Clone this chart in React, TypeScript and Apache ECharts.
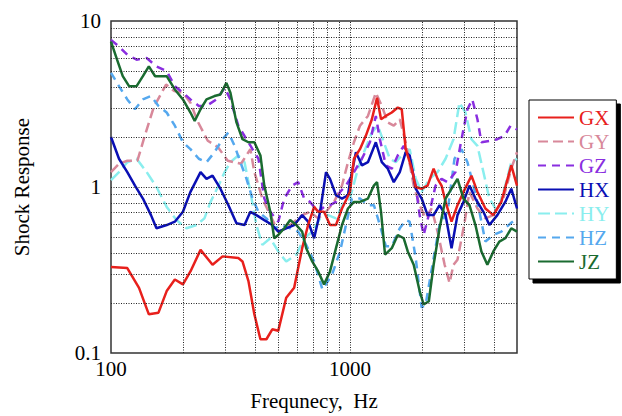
import React, { useEffect, useRef } from "react";
import * as echarts from "echarts";

const seriesNames = ["GX", "GY", "GZ", "HX", "HY", "HZ", "JZ"];
const xGridValues = [200, 300, 400, 500, 600, 700, 800, 900, 1000, 2000, 3000, 4000];
const yGridValues = [0.2, 0.3, 0.4, 0.5, 0.6, 0.7, 0.8, 0.9, 1, 2, 3, 4, 5, 6, 7, 8, 9];
const xTickLabels = [100, 1000];

const GX = [
  [100, 0.33], [117, 0.325], [131, 0.247], [144, 0.171], [158, 0.175], [171, 0.236], [185, 0.277],
  [200, 0.259], [215, 0.31], [237, 0.418], [266, 0.34], [293, 0.382], [341, 0.373], [355, 0.356],
  [376, 0.271], [398, 0.171], [422, 0.121], [447, 0.121], [473, 0.139], [501, 0.136], [541, 0.215],
  [584, 0.247], [631, 0.428], [668, 0.59], [708, 0.759], [736, 0.709], [779, 0.709], [825, 0.59],
  [874, 0.59], [926, 0.742], [1000, 0.934], [1039, 1.48], [1101, 1.69], [1166, 2.04], [1235, 2.56],
  [1298, 3.45], [1349, 2.56], [1413, 2.68], [1496, 2.81], [1585, 3.01], [1647, 2.94], [1711, 1.69],
  [1813, 1.29], [1884, 1.0], [1995, 0.977], [2113, 1.02], [2239, 1.29], [2326, 1.12], [2417, 1.02],
  [2512, 0.813], [2661, 0.618], [2818, 0.777], [2985, 0.934], [3224, 1.17], [3415, 0.934],
  [3687, 0.742], [3981, 0.677], [4299, 0.813], [4732, 1.35], [5000, 1.02],
];

const GY = [
  [100, 1.23], [108, 1.38], [117, 1.44], [129, 1.44], [138, 2.0], [151, 3.03], [170, 4.14],
  [184, 3.78], [200, 3.7], [215, 3.22], [230, 2.5], [254, 1.9], [280, 1.74], [308, 1.44],
  [350, 1.38], [383, 1.69], [398, 1.23], [430, 0.852], [464, 0.677], [501, 0.538], [541, 0.564],
  [584, 0.618], [631, 0.677], [681, 0.709], [736, 0.647], [794, 0.709], [858, 0.813], [926, 1.02],
  [981, 1.41], [1039, 1.86], [1101, 2.34], [1189, 2.68], [1283, 3.7], [1359, 3.08], [1440, 2.45],
  [1525, 2.34], [1616, 2.56], [1711, 1.86], [1848, 1.02], [1957, 0.777], [2073, 0.647],
  [2196, 0.742], [2326, 0.538], [2490, 0.34], [2610, 0.264], [2712, 0.34], [2818, 0.365],
  [3012, 0.604], [3162, 0.934], [3415, 0.742], [3687, 0.647], [3981, 0.677], [4382, 0.852],
  [4732, 1.29], [5000, 1.62],
];

const GZ = [
  [100, 7.7], [108, 7.02], [117, 6.26], [128, 5.85], [141, 5.98], [155, 5.33], [171, 4.98],
  [185, 4.05], [200, 3.7], [215, 3.37], [233, 3.08], [251, 3.08], [276, 3.37], [299, 3.96],
  [316, 3.37], [341, 2.34], [369, 1.94], [391, 1.69], [414, 1.48], [438, 0.852], [464, 0.709],
  [501, 0.618], [531, 0.852], [573, 1.02], [607, 1.07], [643, 0.852], [681, 0.813], [736, 0.709],
  [779, 0.759], [825, 0.777], [874, 0.813], [909, 0.934], [962, 1.02], [1039, 1.23], [1122, 1.48],
  [1212, 1.86], [1283, 2.68], [1334, 1.94], [1413, 1.35], [1496, 1.29], [1585, 1.55], [1679, 1.77],
  [1778, 1.48], [1884, 1.02], [1957, 0.677], [2034, 0.514], [2154, 0.709], [2282, 1.02],
  [2417, 1.12], [2561, 1.07], [2765, 1.23], [2929, 1.94], [3102, 2.94], [3250, 3.37], [3415, 2.56],
  [3548, 1.86], [3900, 1.9], [4137, 1.94], [4440, 2.04], [4700, 2.34], [5000, 2.22],
];

const HX = [
  [100, 2.0], [108, 1.48], [117, 1.23], [126, 1.02], [136, 0.852], [147, 0.677], [155, 0.564],
  [171, 0.59], [185, 0.618], [200, 0.709], [215, 0.934], [237, 1.23], [251, 1.12], [266, 1.17],
  [287, 0.977], [310, 0.777], [335, 0.604], [362, 0.59], [383, 0.709], [406, 0.677], [438, 0.632],
  [473, 0.59], [501, 0.538], [541, 0.564], [584, 0.59], [631, 0.677], [668, 0.618], [708, 0.491],
  [750, 0.709], [794, 1.23], [825, 1.12], [874, 0.892], [926, 0.852], [981, 0.892], [1000, 1.07],
  [1059, 1.62], [1122, 1.35], [1189, 1.41], [1283, 1.86], [1359, 1.41], [1440, 1.29], [1525, 1.07],
  [1616, 1.23], [1711, 1.62], [1778, 1.55], [1884, 0.977], [1995, 0.852], [2113, 0.677],
  [2239, 0.677], [2371, 0.777], [2512, 0.677], [2661, 0.428], [2818, 0.677], [2985, 0.813],
  [3162, 1.02], [3350, 0.852], [3617, 0.709], [3831, 0.59], [4137, 0.677], [4467, 0.813],
  [4732, 0.977], [5000, 0.742],
];

const HY = [
  [100, 1.1], [108, 1.23], [117, 1.41], [128, 1.48], [141, 1.23], [155, 1.0], [171, 0.759],
  [188, 0.632], [207, 0.564], [228, 0.59], [246, 0.647], [261, 0.813], [282, 1.02], [299, 1.23],
  [316, 1.41], [341, 1.55], [362, 1.41], [383, 0.934], [406, 0.59], [430, 0.448], [464, 0.491],
  [501, 0.409], [541, 0.356], [596, 0.391], [643, 0.491], [695, 0.538], [750, 0.647], [810, 0.677],
  [874, 0.647], [944, 0.813], [1000, 0.852], [1080, 1.29], [1144, 1.62], [1235, 2.13], [1308, 2.34],
  [1386, 1.86], [1468, 1.48], [1555, 1.41], [1647, 1.55], [1778, 1.69], [1884, 1.12], [1995, 0.934],
  [2154, 1.12], [2326, 1.23], [2512, 1.48], [2712, 1.94], [2872, 3.22], [3043, 2.81], [3224, 1.94],
  [3415, 1.77], [3617, 1.23], [3831, 0.852], [4137, 0.709], [4467, 1.02], [4732, 1.41], [5000, 1.48],
];

const HZ = [
  [100, 4.87], [108, 4.05], [117, 3.37], [126, 2.94], [136, 3.37], [147, 3.53], [158, 3.08],
  [171, 2.81], [185, 2.34], [200, 1.86], [215, 1.69], [233, 1.48], [251, 1.41], [271, 1.62],
  [293, 1.94], [310, 2.13], [329, 1.77], [348, 1.41], [369, 1.12], [391, 0.852], [414, 0.709],
  [447, 0.647], [482, 0.564], [521, 0.59], [562, 0.564], [607, 0.538], [656, 0.448], [708, 0.356],
  [767, 0.241], [841, 0.296], [909, 0.409], [962, 0.59], [1019, 0.852], [1101, 0.852], [1189, 0.777],
  [1259, 0.777], [1334, 0.59], [1413, 0.44], [1496, 0.44], [1616, 0.564], [1711, 0.632],
  [1778, 0.618], [1884, 0.373], [1995, 0.188], [2073, 0.196], [2239, 0.373], [2371, 0.59],
  [2561, 0.709], [2738, 1.48], [2929, 1.69], [3102, 1.41], [3286, 1.02], [3481, 0.709],
  [3687, 0.469], [3981, 0.514], [4299, 0.538], [4700, 0.604], [5000, 0.647],
];

const JZ = [
  [100, 7.52], [106, 5.85], [112, 4.65], [119, 4.05], [128, 4.05], [136, 4.65], [144, 5.33],
  [153, 4.65], [171, 4.65], [185, 3.87], [200, 3.37], [215, 2.81], [224, 2.5], [237, 2.94],
  [251, 3.37], [271, 3.53], [287, 3.61], [304, 4.24], [316, 3.7], [335, 2.45], [355, 1.94],
  [376, 1.86], [398, 1.86], [422, 1.55], [438, 1.02], [464, 0.709], [482, 0.491], [501, 0.514],
  [531, 0.564], [562, 0.632], [596, 0.59], [631, 0.538], [656, 0.428], [695, 0.356], [736, 0.31],
  [779, 0.259], [825, 0.31], [874, 0.428], [926, 0.59], [981, 0.742], [1039, 0.813], [1101, 0.813],
  [1189, 0.852], [1259, 1.02], [1298, 1.07], [1349, 0.709], [1402, 0.391], [1496, 0.428],
  [1585, 0.514], [1679, 0.491], [1745, 0.409], [1848, 0.34], [1957, 0.236], [2034, 0.196],
  [2138, 0.205], [2239, 0.34], [2371, 0.564], [2512, 0.852], [2661, 0.977], [2818, 1.12],
  [2985, 0.852], [3162, 0.777], [3350, 0.59], [3548, 0.409], [3758, 0.34], [3981, 0.409],
  [4217, 0.469], [4467, 0.491], [4732, 0.564], [5000, 0.538],
];

const FONT = "Liberation Serif";
const FS = 21;

const styles: Record<string, { color: string; type: any }> = {
  GX: { color: "#e8201c", type: "solid" },
  GY: { color: "#d8889a", type: [10, 5] },
  GZ: { color: "#8a2ee0", type: [8, 6] },
  HX: { color: "#0a0fb4", type: "solid" },
  HY: { color: "#8aeeee", type: [12, 5] },
  HZ: { color: "#55a8ee", type: [8, 6] },
  JZ: { color: "#1a6b30", type: "solid" },
};

const dataMap: Record<string, number[][]> = { GX, GY, GZ, HX, HY, HZ, JZ };
const drawOrder = ["HY", "GY", "HZ", "GZ", "HX", "GX", "JZ"];

export default function App() {
  const ref = useRef<HTMLDivElement>(null);
  useEffect(() => {
    if (!ref.current) return;
    const chart = echarts.init(ref.current, null, { renderer: "svg" });
    const lineSeries = drawOrder.map((name) => ({
      name,
      type: "line",
      data: dataMap[name],
      symbol: "none",
      showSymbol: false,
      smooth: false,
      lineStyle: { color: styles[name].color, width: 2.5, type: styles[name].type },
      itemStyle: { color: styles[name].color },
      z: 3,
    }));
    const gridSeries = {
      name: "__grid",
      type: "line",
      data: [],
      silent: true,
      z: 1,
      markLine: {
        silent: true,
        symbol: ["none", "none"],
        label: { show: false },
        lineStyle: { color: "#222", width: 1, type: [1, 1.5] },
        emphasis: { disabled: true },
        data: [
          ...xGridValues.map((v) => ({ xAxis: v })),
          ...yGridValues.map((v) => ({ yAxis: v })),
        ],
      },
    };
    chart.setOption({
      animation: false,
      backgroundColor: "#fff",
      textStyle: { fontFamily: FONT },
      grid: {
        left: 111,
        right: 105,
        top: 21,
        bottom: 60,
        show: true,
        borderColor: "#333",
        borderWidth: 1.5,
        backgroundColor: "transparent",
      },
      legend: {
        orient: "vertical",
        left: 529,
        top: 100,
        padding: [7, 7, 7, 8],
        itemWidth: 36,
        itemHeight: 14,
        itemGap: 3,
        backgroundColor: "#fff",
        borderColor: "#000",
        borderWidth: 1,
        shadowColor: "#000",
        shadowBlur: 0,
        shadowOffsetX: 4,
        shadowOffsetY: 4,
        selectedMode: false,
        itemStyle: { opacity: 0 },
        textStyle: { fontFamily: FONT, fontSize: FS, lineHeight: FS },
        data: seriesNames.map((n) => ({
          name: n,
          textStyle: { color: styles[n].color, fontFamily: FONT, fontSize: FS },
        })),
      },
      xAxis: {
        type: "log",
        logBase: 10,
        min: 100,
        max: 5000,
        name: "Frequnecy,  Hz",
        nameLocation: "middle",
        nameGap: 37,
        nameTextStyle: { fontFamily: FONT, fontSize: FS, color: "#000" },
        axisLine: { show: false },
        axisTick: { show: false },
        splitLine: { show: false },
        axisLabel: {
          fontFamily: FONT,
          fontSize: FS,
          color: "#000",
          margin: 5,
          showMaxLabel: false,
          formatter: (v: number) => (xTickLabels.includes(Math.round(v)) ? String(Math.round(v)) : ""),
        },
      },
      yAxis: {
        type: "log",
        logBase: 10,
        min: 0.1,
        max: 10,
        name: "Shock Response",
        nameLocation: "middle",
        nameGap: 79,
        nameRotate: 90,
        nameTextStyle: { fontFamily: FONT, fontSize: FS, color: "#000" },
        axisLine: { show: false },
        axisTick: { show: false },
        splitLine: { show: false },
        axisLabel: { fontFamily: FONT, fontSize: FS, color: "#000", margin: 10 },
      },
      series: [gridSeries, ...lineSeries],
    });
    return () => chart.dispose();
  }, []);
  return (
    <div
      ref={ref}
      style={{ position: "fixed", left: 0, top: 0, width: 622, height: 416, background: "#fff" }}
    />
  );
}
